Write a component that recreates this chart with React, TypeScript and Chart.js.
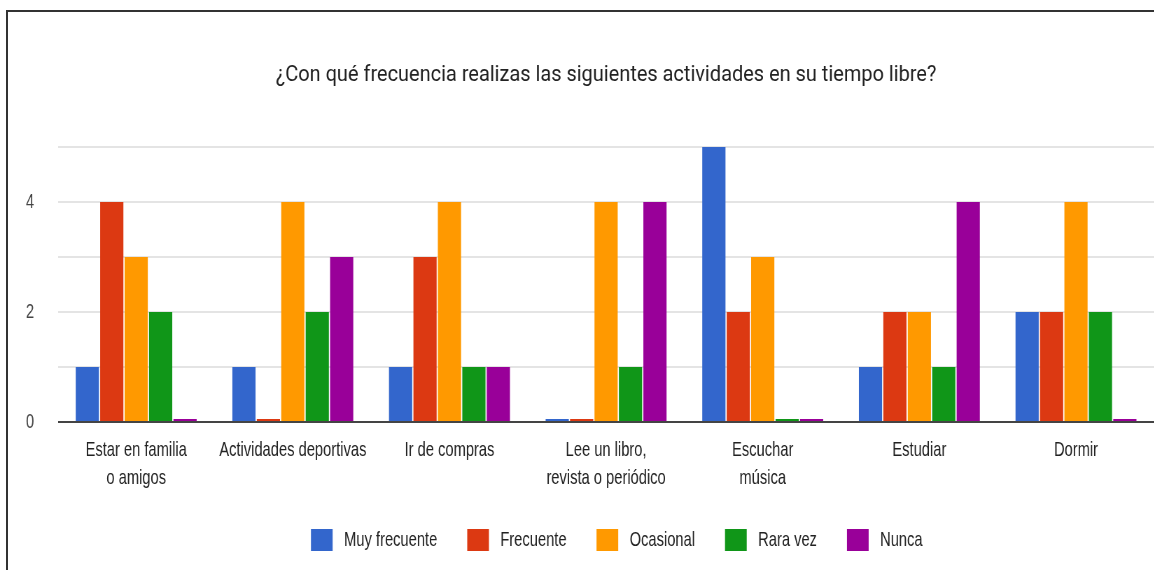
import React, { useEffect, useRef } from "react";
import { Chart, registerables } from "chart.js";

Chart.register(...registerables);

const categories: (string | string[])[] = [
  ["Estar en familia", "o amigos"],
  "Actividades deportivas",
  "Ir de compras",
  ["Lee un libro,", "revista o periódico"],
  ["Escuchar", "música"],
  "Estudiar",
  "Dormir",
];

const muyFrecuente = [1, 1, 1, 0, 5, 1, 2];
const frecuente = [4, 0, 3, 0, 2, 2, 2];
const ocasional = [3, 4, 4, 4, 3, 2, 4];
const raraVez = [2, 2, 1, 1, 0, 1, 2];
const nunca = [0, 3, 1, 4, 0, 4, 0];

const seriesNames = ["Muy frecuente", "Frecuente", "Ocasional", "Rara vez", "Nunca"];
const seriesColors = ["#3366cc", "#dc3912", "#ff9900", "#109618", "#990099"];

const titleText = "¿Con qué frecuencia realizas las siguientes actividades en su tiempo libre?";

const FONT = "'Liberation Sans', Arial, sans-serif";
const TITLE_FONT = "Roboto, 'Liberation Sans', sans-serif";

// the reference is horizontally condensed; render wider and squeeze with CSS
const SQUEEZE = 0.7;
const VIEW_W = 1154;
const VIEW_H = 570;
const CANVAS_W = Math.round(VIEW_W / SQUEEZE);
const TITLE_STRETCH = 1.296;
const LEGEND_SHIFT = 58;

const titlePlugin = {
  id: "stretchedTitle",
  afterLayout(chart: any) {
    if (chart.legend) {
      chart.legend.left += LEGEND_SHIFT;
      chart.legend.right += LEGEND_SHIFT;
    }
  },
  afterDraw(chart: any) {
    const { ctx, chartArea } = chart;
    ctx.save();
    ctx.font = `22px ${TITLE_FONT}`;
    ctx.fillStyle = "#222";
    ctx.textAlign = "center";
    ctx.textBaseline = "middle";
    ctx.translate((chartArea.left + chartArea.right) / 2, 75);
    ctx.scale(TITLE_STRETCH, 1);
    ctx.fillText(titleText, 0, 0);
    ctx.restore();
  },
};

export default function App() {
  const ref = useRef<HTMLCanvasElement>(null);

  useEffect(() => {
    document.body.style.margin = "0";
    const values = [muyFrecuente, frecuente, ocasional, raraVez, nunca];
    const chart = new Chart(ref.current!, {
      type: "bar",
      data: {
        labels: categories,
        datasets: values.map((v, i) => ({
          label: seriesNames[i],
          data: v,
          backgroundColor: seriesColors[i],
          borderWidth: 0,
          minBarLength: 3,
          categoryPercentage: 0.78,
          barPercentage: 0.95,
        })),
      },
      plugins: [titlePlugin],
      options: {
        animation: false,
        responsive: false,
        maintainAspectRatio: false,
        layout: { padding: { left: 3, right: 0, top: 147, bottom: 9 } },
        plugins: {
          title: { display: false },
          legend: {
            position: "bottom",
            labels: {
              boxWidth: 31,
              boxHeight: 22,
              color: "#222",
              padding: 37,
              font: { family: FONT, size: 21 },
              generateLabels: (chart: any) =>
                Chart.defaults.plugins.legend.labels
                  .generateLabels(chart)
                  .map((l: any) => ({ ...l, text: " " + l.text + " " })),
            },
          },
          tooltip: { enabled: false },
        },
        scales: {
          x: {
            grid: { display: false, drawTicks: false },
            border: { display: false },
            afterFit: (scale: any) => {
              scale.height = 70;
            },
            ticks: {
              color: "#222",
              font: { family: FONT, size: 21, lineHeight: 1.333 },
              maxRotation: 0,
              autoSkip: false,
              padding: 14,
            },
          },
          y: {
            min: 0,
            max: 5,
            border: { display: false },
            grid: {
              drawTicks: false,
              color: (ctx: any) => (ctx.tick && ctx.tick.value === 0 ? "#444" : "#e4e4e4"),
              lineWidth: 2,
            },
            ticks: {
              stepSize: 1,
              padding: 34,
              color: "#444",
              font: { family: FONT, size: 21 },
              callback: (v: any) => (Number(v) % 2 === 0 && Number(v) < 5 ? String(v) : ""),
            },
          },
        },
      },
    });
    return () => chart.destroy();
  }, []);

  return (
    <div
      style={{
        position: "absolute",
        left: 0,
        top: 0,
        width: VIEW_W,
        height: VIEW_H,
        overflow: "hidden",
        background: "#fff",
      }}
    >
      <div
        style={{
          position: "absolute",
          left: 0,
          top: 0,
          width: CANVAS_W,
          height: VIEW_H,
          transform: `scaleX(${SQUEEZE})`,
          transformOrigin: "0 0",
        }}
      >
        <canvas ref={ref} width={CANVAS_W} height={VIEW_H} />
      </div>
      <div
        style={{
          position: "absolute",
          left: 6,
          top: 10,
          right: 0,
          bottom: 0,
          borderLeft: "2px solid #333",
          borderTop: "2px solid #333",
          pointerEvents: "none",
        }}
      />
    </div>
  );
}
